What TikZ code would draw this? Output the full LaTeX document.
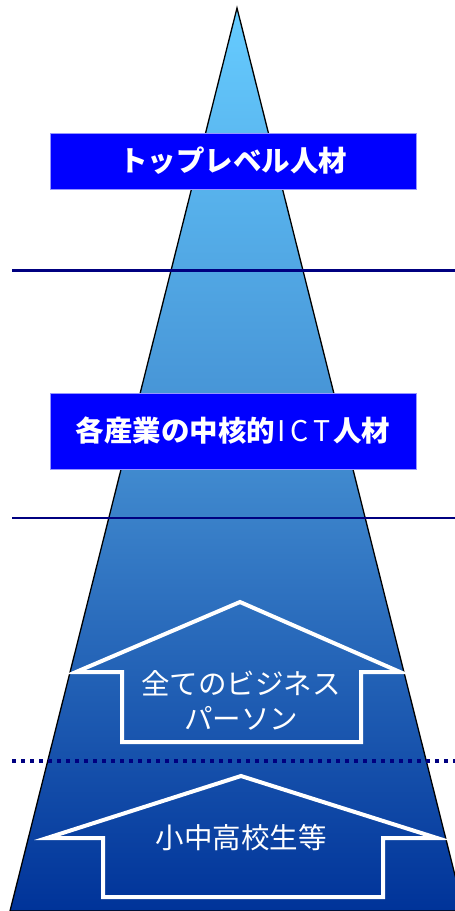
\documentclass[tikz,border=0pt]{standalone}
\usepackage{fontspec}
\setmainfont{Noto Sans CJK JP}
\definecolor{ptop}{RGB}{102,204,255}
\definecolor{pmid}{RGB}{66,140,208}
\definecolor{pbot}{RGB}{0,51,153}
\definecolor{boxblue}{RGB}{0,0,255}
\definecolor{boxedge}{RGB}{150,150,255}
\definecolor{navy}{RGB}{0,0,128}
\tikzset{
  lbox/.style={fill=boxblue, draw=boxedge, line width=0.8pt, minimum width=366pt, inner sep=0pt,
    text=white, font=\fontsize{28.5}{30}\selectfont\bfseries},
  sep/.style={draw=navy},
  uparrow/.style={draw=white, line width=4pt, miter limit=20},
  atext/.style={text=white, font=\fontsize{28.5}{35}\selectfont, align=center, inner sep=0pt},
}
\begin{document}
\begin{tikzpicture}[x=1pt,y=-1pt]
\useasboundingbox (0,0) rectangle (455,911);
\clip (0,0) rectangle (455,911);
% pyramid
\path[top color=ptop, bottom color=pbot, middle color=pmid, draw=black, line width=1.3pt]
  (237,8) -- (464,911) -- (10,911) -- cycle;
% separators
\coordinate (l1a) at (12,270); \coordinate (l1b) at (455,270);
\coordinate (l2a) at (12,518); \coordinate (l2b) at (455,518);
\coordinate (l3a) at (12,761); \coordinate (l3b) at (455,761);
\draw[sep, line width=3pt] (l1a) -- (l1b);
\draw[sep, line width=2pt] (l2a) -- (l2b);
\draw[sep, line width=4pt, dash pattern=on 4pt off 5pt] (l3a) -- (l3b);
% label boxes
\node[lbox, minimum height=56pt] (top) at (233,161) {トップレベル人材};
\node[lbox, minimum height=76pt] (core) at (233,431) {各産業の中核的{\mdseries\kern2pt I\kern5pt C\kern5pt T\kern2pt}人材};
% arrows
\draw[uparrow] (240,602) -- (400,672) -- (361,672) -- (361,742) -- (122,742) -- (122,672) -- (76,672) -- cycle;
\node[atext] (biz) at (241,700) {全てのビジネス\\パーソン};
\draw[uparrow] (241,776) -- (437,838) -- (383,838) -- (383,897) -- (103,897) -- (103,838) -- (47,838) -- cycle;
\node[atext] (school) at (241,838) {小中高校生等};
\end{tikzpicture}
\end{document}
